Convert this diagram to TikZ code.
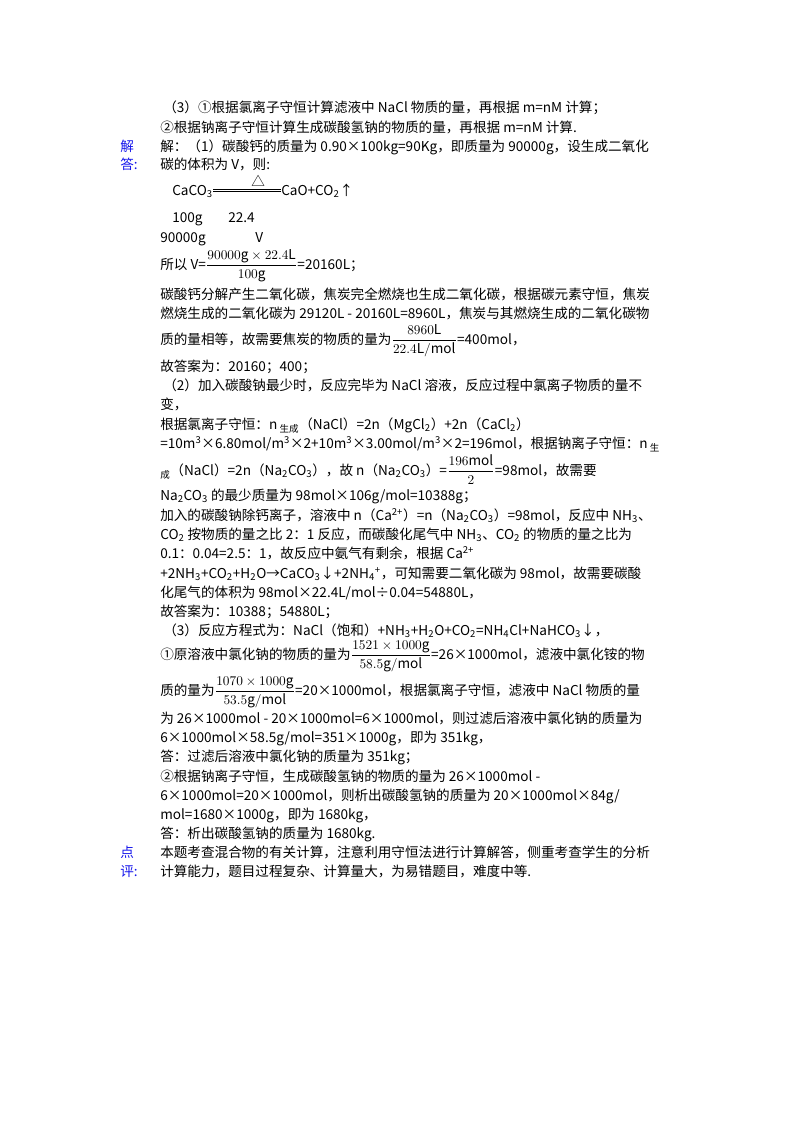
\documentclass[tikz,border=0pt]{standalone}
\usepackage{fontspec}
\usepackage{amsmath}
\setmainfont{Noto Sans CJK SC}
\newcommand{\sub}[1]{\textsubscript{#1}}
\newcommand{\sups}[1]{\textsuperscript{#1}}
\newcommand{\fr}[2]{$\dfrac{#1}{#2}$}
\definecolor{tagblue}{RGB}{20,20,235}
\begin{document}
\begin{tikzpicture}[x=0.75pt,y=-0.75pt,
  txt/.style={anchor=base west,inner sep=0pt,font=\fontsize{10.2pt}{12pt}\selectfont},
  tag/.style={txt,text=tagblue}]
\useasboundingbox (0,0) rectangle (800,1132);

% hint part (3)
\node[txt] (h1) at (163,112) {（3）①根据氯离子守恒计算滤液中 NaCl 物质的量，再根据 m=nM 计算；};
\node[txt] (h2) at (160,132) {②根据钠离子守恒计算生成碳酸氢钠的物质的量，再根据 m=nM 计算.};

% answer labels
\node[tag] (jie) at (120,151) {解};
\node[tag] (da) at (120,169) {答:};

% part (1)
\node[txt] (a1) at (160,151) {解：（1）碳酸钙的质量为 0.90×100kg=90Kg，即质量为 90000g，设生成二氧化};
\node[txt] (a2) at (160,169) {碳的体积为 V，则:};
\node[txt] (caco) at (172,195) {CaCO\sub{3}};
\node[txt] (cao) at (281,195) {CaO+CO\sub{2}↑};
\draw[semithick] ([yshift=3pt]caco.base east) -- ([yshift=3pt]cao.base west);
\draw[semithick] ([yshift=4.5pt]caco.base east) -- ([yshift=4.5pt]cao.base west);
\node[txt] (delta) at (251,186) {△};
\node[txt] (m1) at (172,222) {100g};
\node[txt] (v1) at (228,222) {22.4};
\node[txt] (m2) at (160,242) {90000g};
\node[txt] (v2) at (255,242) {V};
\node[txt] (a3) at (160,269) {所以 V=\fr{90000\mathrm{g}\times22.4\mathrm{L}}{100\mathrm{g}}=20160L；};
\node[txt] (a4) at (160,299) {碳酸钙分解产生二氧化碳，焦炭完全燃烧也生成二氧化碳，根据碳元素守恒，焦炭};
\node[txt] (a5) at (160,318) {燃烧生成的二氧化碳为 29120L - 20160L=8960L，焦炭与其燃烧生成的二氧化碳物};
\node[txt] (a6) at (160,344) {质的量相等，故需要焦炭的物质的量为\fr{8960\mathrm{L}}{22.4\mathrm{L/mol}}=400mol，};
\node[txt] (a7) at (160,371) {故答案为：20160；400；};

% part (2)
\node[txt] (b1) at (163,390) {（2）加入碳酸钠最少时，反应完毕为 NaCl 溶液，反应过程中氯离子物质的量不};
\node[txt] (b2) at (160,409) {变，};
\node[txt] (b3) at (160,429) {根据氯离子守恒：n\,\sub{生成}（NaCl）=2n（MgCl\sub{2}）+2n（CaCl\sub{2}）};
\node[txt] (b4) at (160,448) {=10m\sups{3}×6.80mol/m\sups{3}×2+10m\sups{3}×3.00mol/m\sups{3}×2=196mol，根据钠离子守恒：n\,\sub{生}};
\node[txt] (b5) at (160,475) {\sub{成}（NaCl）=2n（Na\sub{2}CO\sub{3}），故 n（Na\sub{2}CO\sub{3}）=\fr{196\mathrm{mol}}{2}=98mol，故需要};
\node[txt] (b6) at (160,500) {Na\sub{2}CO\sub{3} 的最少质量为 98mol×106g/mol=10388g；};
\node[txt] (b7) at (160,520) {加入的碳酸钠除钙离子，溶液中 n（Ca\sups{2+}）=n（Na\sub{2}CO\sub{3}）=98mol，反应中 NH\sub{3}、};
\node[txt] (b8) at (160,539) {CO\sub{2} 按物质的量之比 2：1 反应，而碳酸化尾气中 NH\sub{3}、CO\sub{2} 的物质的量之比为};
\node[txt] (b9) at (160,558) {0.1：0.04=2.5：1，故反应中氨气有剩余，根据 Ca\sups{2+}};
\node[txt] (b10) at (160,578) {+2NH\sub{3}+CO\sub{2}+H\sub{2}O→CaCO\sub{3}↓+2NH\sub{4}\sups{+}，可知需要二氧化碳为 98mol，故需要碳酸};
\node[txt] (b11) at (160,597) {化尾气的体积为 98mol×22.4L/mol÷0.04=54880L，};
\node[txt] (b12) at (160,616) {故答案为：10388；54880L；};

% part (3)
\node[txt] (c1) at (163,635) {（3）反应方程式为：NaCl（饱和）+NH\sub{3}+H\sub{2}O+CO\sub{2}=NH\sub{4}Cl+NaHCO\sub{3}↓，};
\node[txt] (c2) at (160,659) {①原溶液中氯化钠的物质的量为\fr{1521\times1000\mathrm{g}}{58.5\mathrm{g/mol}}=26×1000mol，滤液中氯化铵的物};
\node[txt] (c3) at (160,695) {质的量为\fr{1070\times1000\mathrm{g}}{53.5\mathrm{g/mol}}=20×1000mol，根据氯离子守恒，滤液中 NaCl 物质的量};
\node[txt] (c4) at (160,723) {为 26×1000mol - 20×1000mol=6×1000mol，则过滤后溶液中氯化钠的质量为};
\node[txt] (c5) at (160,742) {6×1000mol×58.5g/mol=351×1000g，即为 351kg，};
\node[txt] (c6) at (160,761) {答：过滤后溶液中氯化钠的质量为 351kg；};
\node[txt] (c7) at (160,781) {②根据钠离子守恒，生成碳酸氢钠的物质的量为 26×1000mol -};
\node[txt] (c8) at (160,800) {6×1000mol=20×1000mol，则析出碳酸氢钠的质量为 20×1000mol×84g/};
\node[txt] (c9) at (160,819) {mol=1680×1000g，即为 1680kg，};
\node[txt] (c10) at (160,838) {答：析出碳酸氢钠的质量为 1680kg.};

% comment
\node[tag] (dian) at (120,857) {点};
\node[tag] (ping) at (120,876) {评:};
\node[txt] (d1) at (160,857) {本题考查混合物的有关计算，注意利用守恒法进行计算解答，侧重考查学生的分析};
\node[txt] (d2) at (160,876) {计算能力，题目过程复杂、计算量大，为易错题目，难度中等.};
\end{tikzpicture}
\end{document}
